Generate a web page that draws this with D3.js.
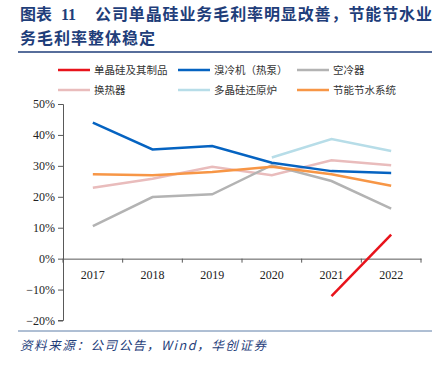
<!DOCTYPE html>
<html>
<head>
<meta charset="utf-8">
<script src="https://cdn.jsdelivr.net/npm/d3@7"></script>
<style>
  body { margin: 0; background: #fff; }
  svg text { font-family: "Liberation Serif", "Noto Sans CJK SC", serif; }
</style>
</head>
<body>
<div id="chart"></div>
<script>
const years = ["2017", "2018", "2019", "2020", "2021", "2022"]
const yTicks = [-0.2, -0.1, 0, 0.1, 0.2, 0.3, 0.4, 0.5]

// 毛利率，null = 无数据
const danjinggui = [null, null, null, null, -0.121, 0.078]
const xiulengji = [0.440, 0.353, 0.364, 0.310, 0.283, 0.277]
const konglengqi = [0.105, 0.199, 0.208, 0.302, 0.251, 0.162]
const huanreqi = [0.229, 0.258, 0.297, 0.270, 0.318, 0.302]
const duojinggui = [null, null, null, 0.327, 0.387, 0.348]
const jienengjieshui = [0.273, 0.270, 0.280, 0.297, 0.273, 0.236]

const seriesNames = ["单晶硅及其制品", "溴冷机（热泵）", "空冷器", "换热器", "多晶硅还原炉", "节能节水系统"]
const seriesValues = [danjinggui, xiulengji, konglengqi, huanreqi, duojinggui, jienengjieshui]
const colors = ["#E8131B", "#0563C1", "#B3B3B3", "#E9BCBC", "#B7DDE8", "#F79646"]
// draw order (back to front)
const drawOrder = [4, 3, 2, 5, 1, 0]

const w = 442
const h = 365

const svg = d3.select("#chart").append("svg")
    .attr("width", w)
    .attr("height", h)

// title
const titleColor = "#1F3E7A"
const title = svg.append("g")
    .attr("fill", titleColor)
    .style("font-family", "'Noto Sans CJK SC', sans-serif")
    .style("font-weight", "700")
    .style("font-size", "16px")
title.append("text").attr("x", 20).attr("y", 20)
    .attr("textLength", 32).attr("lengthAdjust", "spacing").text("图表")
title.append("text").attr("x", 61).attr("y", 20).text("11")
title.append("text").attr("x", 95).attr("y", 20)
    .attr("textLength", 337).attr("lengthAdjust", "spacing")
    .text("公司单晶硅业务毛利率明显改善，节能节水业")
title.append("text").attr("x", 20).attr("y", 44)
    .attr("textLength", 135).attr("lengthAdjust", "spacing")
    .text("务毛利率整体稳定")

svg.append("line")
    .attr("x1", 18).attr("x2", 432)
    .attr("y1", 52).attr("y2", 52)
    .attr("stroke", titleColor).attr("stroke-width", 1.5)

// legend
const legendX = [58, 178, 297]
const legendY = [70, 90]
const legend = svg.append("g")
legend.selectAll("g")
    .data(seriesNames)
    .enter()
    .append("g")
    .attr("transform", (d, i) => "translate(" + legendX[i % 3] + "," + legendY[Math.floor(i / 3)] + ")")
    .each(function (d, i) {
        const g = d3.select(this)
        g.append("line")
            .attr("x1", 0).attr("x2", 32)
            .attr("y1", 0).attr("y2", 0)
            .attr("stroke", colors[i]).attr("stroke-width", 2.5)
        g.append("text")
            .attr("x", 36).attr("y", 4)
            .style("font-family", "'Noto Sans CJK SC', sans-serif")
            .style("font-size", "10.5px")
            .attr("fill", "#333")
            .text(d)
    })

// scales
const xScale = d3.scaleBand()
    .domain(years)
    .range([63, 421])

const yScale = d3.scaleLinear()
    .domain([-0.2, 0.5])
    .range([320.5, 104])

// y axis
const yAxis = d3.axisLeft(yScale)
    .tickValues(yTicks)
    .tickFormat(d3.format(".0%"))
    .tickSize(5)
    .tickPadding(3)
svg.append("g")
    .attr("transform", "translate(63,0)")
    .call(yAxis)
    .call(g => g.select(".domain").attr("stroke", "#595959").attr("d", "M-5,104.5H0.5V320.5H-5"))
    .call(g => g.selectAll(".tick line").attr("stroke", "#595959").attr("x1", 0).attr("x2", -5))
    .call(g => g.selectAll("text").attr("fill", "#222").style("font-size", "12px").style("font-family", "'Liberation Serif', serif"))

// x axis at 0%
const xAxis = d3.axisBottom(xScale)
    .tickSize(0)
    .tickPadding(12)
svg.append("g")
    .attr("transform", "translate(0," + yScale(0) + ")")
    .call(xAxis)
    .call(g => g.select(".domain").attr("stroke", "#595959"))
    .call(g => g.selectAll("text").attr("fill", "#222").style("font-size", "12px").style("font-family", "'Liberation Serif', serif"))

// x ticks between bands
const boundaries = years.map(y => xScale(y)).concat([xScale(years[years.length - 1]) + xScale.bandwidth()])
svg.append("g").selectAll("line")
    .data(boundaries)
    .enter()
    .append("line")
    .attr("x1", d => d).attr("x2", d => d)
    .attr("y1", yScale(0)).attr("y2", yScale(0) + 4)
    .attr("stroke", "#595959")

// lines
const line = d3.line()
    .defined(d => d.v !== null)
    .x(d => xScale(d.year) + xScale.bandwidth() / 2)
    .y(d => yScale(d.v))

svg.append("g").selectAll("path")
    .data(drawOrder)
    .enter()
    .append("path")
    .attr("fill", "none")
    .attr("stroke", i => colors[i])
    .attr("stroke-width", 2.5)
    .attr("d", i => line(seriesValues[i].map((v, k) => ({ year: years[k], v: v }))))

// footer
svg.append("line")
    .attr("x1", 18).attr("x2", 432)
    .attr("y1", 331).attr("y2", 331)
    .attr("stroke", "#5E7FA8").attr("stroke-width", 1)

svg.append("text")
    .attr("x", 20).attr("y", 350)
    .attr("fill", "#1F3E7A")
    .style("font-family", "'Noto Sans CJK SC', sans-serif")
    .style("font-style", "italic")
    .style("font-size", "12.5px")
    .attr("textLength", 246).attr("lengthAdjust", "spacing")
    .text("资料来源：公司公告，Wind，华创证券")
</script>
</body>
</html>
